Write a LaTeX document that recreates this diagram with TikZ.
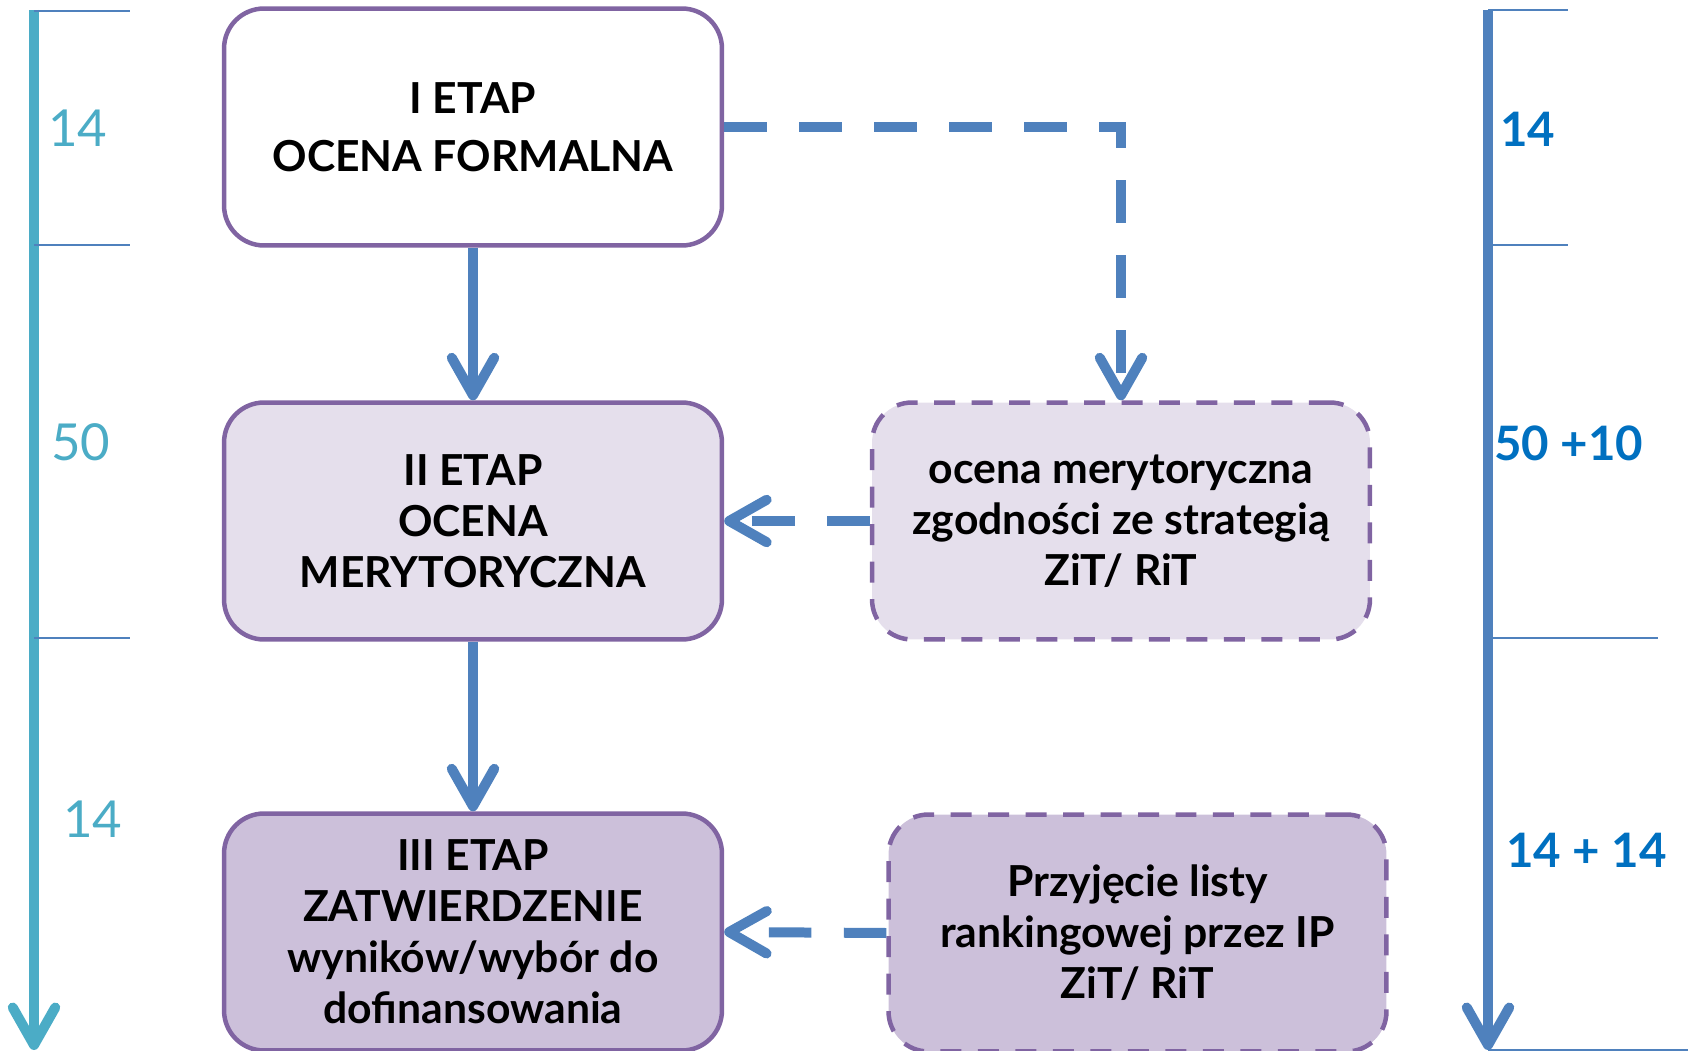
\documentclass[tikz,border=0pt]{standalone}
\usepackage{fontspec}
\setmainfont{Lato}
\usetikzlibrary{arrows.meta, positioning}

\definecolor{etapBorder}{HTML}{8064A2}
\definecolor{arrowBlue}{HTML}{4F81BD}
\definecolor{axisCyan}{HTML}{4BACC6}
\definecolor{dayBlue}{HTML}{0070C0}
\definecolor{fillLight}{HTML}{E5DFEC}
\definecolor{fillDark}{HTML}{CCC0DA}

\begin{document}
\begin{tikzpicture}[x=0.02cm, y=-0.02cm]
    \tikzset{
        etap/.style={
            draw=etapBorder, line width=0.09cm, rounded corners=0.8cm,
            minimum width=9.96cm, minimum height=4.74cm,
            align=center, inner sep=0pt,
            font=\bfseries\fontsize{24.3}{29}\selectfont
        },
        strategy box/.style={etap, dash pattern=on 0.42cm off 0.33cm, fill=fillLight},
        flow/.style={arrowBlue, line width=0.2cm, -{Straight Barb[length=0.75cm, width=0.85cm, round]}},
        flow dashed/.style={flow, dash pattern=on 0.85cm off 0.65cm},
        daytick/.style={arrowBlue, line width=0.04cm},
        days/.style={anchor=west, inner sep=0pt, font=\fontsize{29}{35}\selectfont},
        days right/.style={days, dayBlue, font=\bfseries\fontsize{27}{33}\selectfont}
    }

    \useasboundingbox (0,0) rectangle (1688,1051);

    % --- STAGES (left column) ---
    \node[etap, fill=white, font=\bfseries\fontsize{24.3}{33}\selectfont] (etap1) at (473,127) {I ETAP\\OCENA FORMALNA};
    \node[etap, fill=fillLight] (etap2) at (473,521) {II ETAP\\OCENA\\MERYTORYCZNA};
    \node[etap, fill=fillDark] (etap3) at (473,932) {III ETAP\\ZATWIERDZENIE\\wyników/wybór do\\dofinansowania};

    % --- ZiT / RiT steps (dashed boxes) ---
    \node[strategy box] (zgodnosc) at (1121,521) {ocena merytoryczna\\zgodności ze strategią\\ZiT/ RiT};
    \node[strategy box, fill=fillDark] (lista) at (1137.5,933) {Przyjęcie listy\\rankingowej przez IP\\ZiT/ RiT};

    % --- FLOW ---
    \draw[flow] (etap1) -- (etap2);
    \draw[flow] (etap2) -- (etap3);
    \draw[flow dashed] (etap1.east) -| (zgodnosc.north);
    \draw[flow dashed] (zgodnosc.west) -- (etap2.east);
    \draw[flow dashed] (lista.west) -- (etap3.east);

    % --- LEFT TIME AXIS ---
    \coordinate (leftTop) at (34,10);
    \coordinate (leftEnd) at (34,1050);
    \draw[flow, axisCyan] (leftTop) -- (leftEnd);
    \foreach \y in {11,245,638} {
        \draw[daytick] (34,\y) -- (130,\y);
    }
    \node[days, axisCyan] (dniL1) at (48,128) {14};
    \node[days, axisCyan] (dniL2) at (51,442) {50};
    \node[days, axisCyan] (dniL3) at (63,819) {14};

    % --- RIGHT TIME AXIS ---
    \coordinate (rightTop) at (1488,10);
    \coordinate (rightEnd) at (1488,1050);
    \draw[flow] (rightTop) -- (rightEnd);
    \draw[daytick] (1488,10) -- (1568,10);
    \draw[daytick] (1488,245) -- (1568,245);
    \draw[daytick] (1488,638) -- (1658,638);
    \draw[daytick] (1488,1050) -- (1688,1050);
    \node[days right] (dniR1) at (1500,129.5) {14};
    \node[days right] (dniR2) at (1494,443) {50 +10};
    \node[days right] (dniR3) at (1506,850) {14 + 14};
\end{tikzpicture}
\end{document}
